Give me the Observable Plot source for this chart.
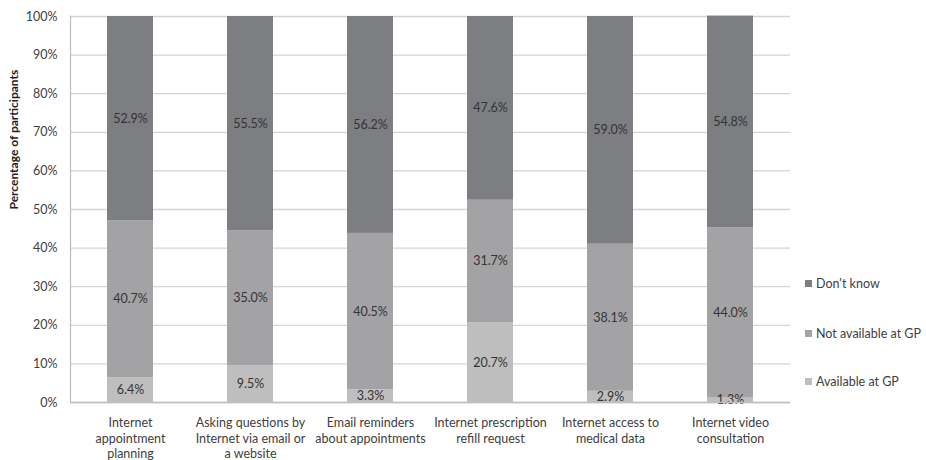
<!DOCTYPE html>
<html>
<head>
<meta charset="utf-8">
<script src="https://cdn.jsdelivr.net/npm/d3@7"></script>
<script src="https://cdn.jsdelivr.net/npm/@observablehq/plot@0.6"></script>
<style>
  body { margin: 0; background: #fff; }
  #wrap { position: relative; width: 926px; height: 460px; overflow: hidden; font-family: Lato, "Open Sans", sans-serif; }
  .leg { position: absolute; left: 805px; font-size: 12.5px; color: #404040; display: flex; align-items: center; white-space: nowrap; }
  .leg span.sw { display: inline-block; width: 7px; height: 7px; margin-right: 4px; }
</style>
</head>
<body>
<div id="wrap"></div>
<script>
const categories = [
  "Internet appointment planning",
  "Asking questions by Internet via email or a website",
  "Email reminders about appointments",
  "Internet prescription refill request",
  "Internet access to medical data",
  "Internet video consultation"
];
const categoryLabels = [
  "Internet\nappointment\nplanning",
  "Asking questions by\nInternet via email or\na website",
  "Email reminders\nabout appointments",
  "Internet prescription\nrefill request",
  "Internet access to\nmedical data",
  "Internet video\nconsultation"
];
const seriesNames = ["Available at GP", "Not available at GP", "Don't know"];
const availableAtGP = [6.4, 9.5, 3.3, 20.7, 2.9, 1.3];
const notAvailableAtGP = [40.7, 35.0, 40.5, 31.7, 38.1, 44.0];
const dontKnow = [52.9, 55.5, 56.2, 47.6, 59.0, 54.8];
const seriesColors = ["#bebebf", "#a3a3a5", "#7d7e82"];
const yTicks = [0,10,20,30,40,50,60,70,80,90,100];

const seriesValues = [availableAtGP, notAvailableAtGP, dontKnow];
const data = [];
categories.forEach((c, i) => {
  seriesNames.forEach((s, j) => {
    data.push({category: c, series: s, value: seriesValues[j][i]});
  });
});
const labelOf = new Map(categories.map((c, i) => [c, categoryLabels[i]]));

const plot = Plot.plot({
  width: 926,
  height: 460,
  marginLeft: 70,
  marginRight: 136,
  marginTop: 16,
  marginBottom: 58,
  style: {fontFamily: "Lato, 'Open Sans', sans-serif", fontSize: "12px", color: "#404040", background: "#fff"},
  x: {domain: categories, paddingInner: 0.62, paddingOuter: 0.31, label: null},
  y: {domain: [0, 100], label: null},
  color: {domain: seriesNames, range: seriesColors},
  marks: [
    Plot.gridY(yTicks, {stroke: "#d4d4d4", strokeOpacity: 1, strokeWidth: 1.3}),
    Plot.barY(data, Plot.stackY({x: "category", y: "value", fill: "series", order: seriesNames})),
    Plot.text(data, Plot.stackY({x: "category", y: "value", z: "series", order: seriesNames,
      text: d => d.value.toFixed(1) + "%", fill: "#333", fontSize: 12.5})),
    Plot.axisY(yTicks, {tickSize: 0, tickPadding: 13, tickFormat: d => d + "%", fontSize: 12.5, fill: "#404040"}),
    Plot.axisX({tickSize: 0, tickPadding: 14, tickFormat: d => labelOf.get(d), fontSize: 12.5, fill: "#404040", lineHeight: 1.22}),
    Plot.ruleY([0], {stroke: "#bfbfbf", strokeWidth: 1.3}),
    Plot.frame({anchor: "left", stroke: "#bfbfbf", strokeWidth: 1.3}),
    Plot.text(["Percentage of participants"], {frameAnchor: "left", rotate: -90, dx: -56, fontWeight: "bold", fontSize: 12, fill: "#222"})
  ]
});
const wrap = document.getElementById("wrap");
wrap.appendChild(plot);

const legendY = [381, 333, 283];
seriesNames.forEach((s, j) => {
  const d = document.createElement("div");
  d.className = "leg";
  d.style.top = (legendY[j] - 8) + "px";
  d.style.height = "16px";
  d.innerHTML = `<span class="sw" style="background:${seriesColors[j]}"></span>${s}`;
  wrap.appendChild(d);
});
</script>
</body>
</html>
